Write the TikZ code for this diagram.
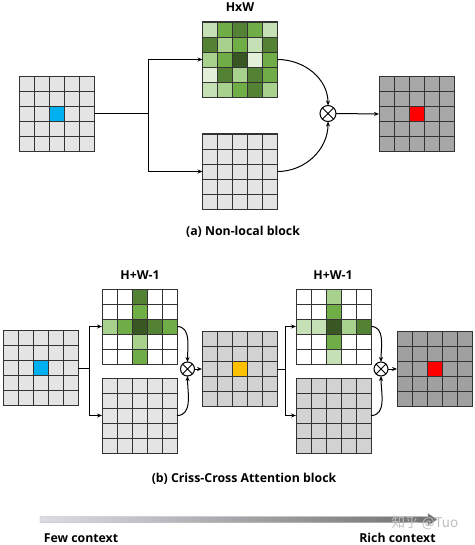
\documentclass[tikz,border=0pt]{standalone}
\usepackage{fontspec}
\setmainfont{Open Sans}
\newfontfamily\cjkfont{Noto Sans CJK SC}
\usetikzlibrary{arrows.meta,calc}
\definecolor{gLine}{HTML}{333333}
\definecolor{gA}{HTML}{E2F0D9}
\definecolor{gB}{HTML}{C5E0B4}
\definecolor{gC}{HTML}{A9D18E}
\definecolor{gD}{HTML}{70AD47}
\definecolor{gE}{HTML}{548235}
\definecolor{gF}{HTML}{385723}
\definecolor{greyA}{HTML}{E4E4E4}
\definecolor{greyB}{HTML}{D2D2D2}
\definecolor{greyC}{HTML}{A8A8A8}
\definecolor{greyD}{HTML}{A0A0A0}
\definecolor{cellBlue}{HTML}{00B0F0}
\definecolor{cellRed}{HTML}{FF0000}
\definecolor{cellOrange}{HTML}{FFC000}
\definecolor{barL}{HTML}{DCDCE4}
\definecolor{barR}{HTML}{707070}
\tikzset{
  gridbox/.style={draw=gLine, line width=1pt, minimum width=75pt, minimum height=75pt, inner sep=0pt, outer sep=0pt},
  gridline/.style={draw=gLine, line width=0.9pt},
  conn/.style={line width=1pt, draw=black},
  arr/.style={conn, -{Stealth[length=5pt,width=4pt]}},
  otimesnode/.style={circle, draw=black, fill=white, line width=1pt, inner sep=0pt, outer sep=0pt,
    path picture={\draw[line width=1pt] (path picture bounding box.north west) -- (path picture bounding box.south east)
      (path picture bounding box.north east) -- (path picture bounding box.south west);}},
  lab/.style={font=\bfseries\fontsize{12.3}{14}\selectfont, inner sep=0pt, anchor=base},
}
\newcommand{\cellgrid}[5]{%
  \node[gridbox, fill=#4] (#1) at (#2,#3) {};
  \foreach \gcol/\grow/\gclr in {#5} {
    \fill[\gclr] ($(#1.north west)+(\gcol*15,-\grow*15)$) rectangle ++(15,-15);
  }
  \foreach \gi in {1,...,4} {
    \draw[gridline] ($(#1.north west)+(\gi*15,0)$) -- ($(#1.south west)+(\gi*15,0)$);
    \draw[gridline] ($(#1.north west)+(0,-\gi*15)$) -- ($(#1.north east)+(0,-\gi*15)$);
  }
  \draw[gridline] (#1.north west) rectangle (#1.south east);
}
\begin{document}
\begin{tikzpicture}[x=1pt,y=1pt]
\fill[white] (0,0) rectangle (474,-545);
\useasboundingbox (0,0) rectangle (474,-545);

% ---------- (a) Non-local block ----------
\cellgrid{inA}{56.5}{-114}{greyA}{2/2/cellBlue}
\cellgrid{attA}{240}{-59.5}{white}{
  0/0/gB,1/0/gD,2/0/gE,3/0/gD,4/0/gB,
  0/1/gE,1/1/gC,2/1/gD,3/1/gB,4/1/gE,
  0/2/gC,1/2/gD,2/2/gF,3/2/gA,4/2/gD,
  0/3/gA,1/3/gE,2/3/gC,3/3/gE,4/3/gD,
  0/4/gB,1/4/gC,2/4/gD,3/4/gE,4/4/gC}
\cellgrid{valA}{240}{-171.5}{greyA}{0/0/greyA}
\cellgrid{outA}{416.5}{-114}{greyC}{2/2/cellRed}
\node[otimesnode, minimum size=16pt] (mulA) at (328,-113.5) {};
\node[lab] (hw) at (240,-11.7) {HxW};
\node[lab] (capA) at (243,-235.3) {(a) Non-local block};

\coordinate (brA) at (148,-114);
\draw[conn] (inA.east) -- (brA);
\draw[arr] (brA) |- (attA.west);
\draw[arr] (brA) |- (valA.west);
\draw[arr] (attA.east) to[out=0,in=90] (mulA.north);
\draw[arr] (valA.east) to[out=0,in=-90] (mulA.south);
\draw[arr] (mulA.east) -- (outA.west);

% ---------- (b) Criss-Cross Attention block ----------
\cellgrid{inB}{40.5}{-368}{greyA}{2/2/cellBlue}
\cellgrid{attB}{139.5}{-326.5}{white}{
  2/0/gE,2/1/gD,0/2/gC,1/2/gD,2/2/gF,3/2/gE,4/2/gD,2/3/gC,2/4/gD}
\cellgrid{valB}{139.5}{-415.5}{greyA}{0/0/greyA}
\node[otimesnode, minimum size=14pt] (mulB) at (187.5,-369) {};
\cellgrid{midB}{239.5}{-369}{greyB}{2/2/cellOrange}
\cellgrid{attC}{333.5}{-326.5}{white}{
  2/0/gC,2/1/gD,0/2/gB,1/2/gB,2/2/gF,3/2/gC,4/2/gE,2/3/gD,2/4/gB}
\cellgrid{valC}{333.5}{-415.5}{greyB}{0/0/greyB}
\node[otimesnode, minimum size=14pt] (mulC) at (381,-369) {};
\cellgrid{outB}{434.5}{-369}{greyD}{2/2/cellRed}
\node[lab] (hwA) at (140,-279.3) {H+W-1};
\node[lab] (hwB) at (333,-279.3) {H+W-1};
\node[lab] (capB) at (244,-482.6) {(b) Criss-Cross Attention block};

\coordinate (brB) at (89,-368);
\draw[conn] (inB.east) -- (brB);
\draw[arr] (brB) |- (attB.west);
\draw[arr] (brB) |- (valB.west);
\draw[arr] (attB.east) to[out=0,in=90] (mulB.north);
\draw[arr] (valB.east) to[out=0,in=-90] (mulB.south);
\draw[arr] (mulB.east) -- (midB.west);

\coordinate (brC) at (285,-369);
\draw[conn] (midB.east) -- (brC);
\draw[arr] (brC) |- (attC.west);
\draw[arr] (brC) |- (valC.west);
\draw[arr] (attC.east) to[out=0,in=90] (mulC.north);
\draw[arr] (valC.east) to[out=0,in=-90] (mulC.south);
\draw[arr] (mulC.east) -- (outB.west);

% ---------- context bar ----------
\shadedraw[left color=barL, right color=barR, draw=gray!70, line width=0.4pt]
  (40,-516.5) -- (428,-516.5) -- (428,-513.5) -- (437,-519.5) -- (428,-525.5) -- (428,-522.5) -- (40,-522.5) -- cycle;
\node[lab] (few) at (81,-542.7) {Few context};
\node[lab] (rich) at (397.5,-542.7) {Rich context};
\node[inner sep=0pt, anchor=base, text=gray!50, font=\cjkfont\fontsize{13.5}{15}\selectfont] (wm) at (425,-527.5) {知乎 @Tuo};
\end{tikzpicture}
\end{document}
